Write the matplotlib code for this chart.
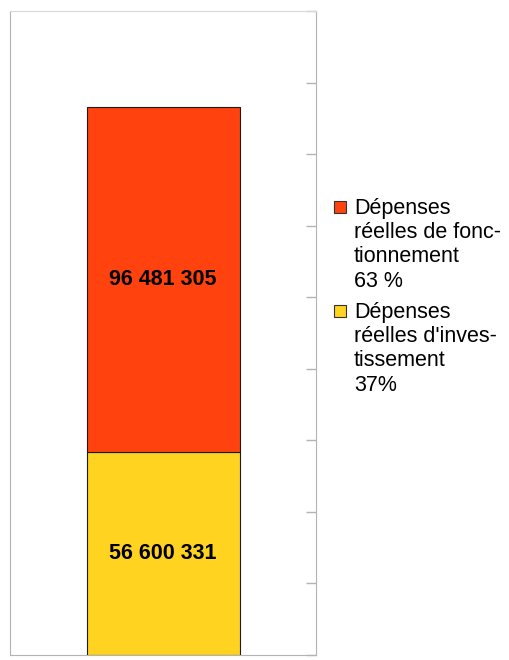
import matplotlib.pyplot as plt
import numpy as np
from matplotlib.patches import Rectangle

plt.rcParams['font.family'] = ['Liberation Sans', 'DejaVu Sans']

# données
categories = ['']
investissement = [56600331]
fonctionnement = [96481305]
valeur_labels = ['56 600 331', '96 481 305']
legend_labels = ['Dépenses\nréelles de fonc-\ntionnement\n63 %',
                 "Dépenses\nréelles d'inves-\ntissement\n37%"]
colors = ['#ff420e', '#ffd320']
y_ticks = np.arange(0, 180e6 + 1, 20e6)

W, H = 509, 660
fig = plt.figure(figsize=(W / 100, H / 100), dpi=100)
ax = fig.add_axes([10 / W, 5 / H, 306 / W, 644 / H])

x = np.arange(len(categories))
ax.bar(x, investissement, width=1.0, color=colors[1], edgecolor='#1a1a1a', linewidth=0.8)
ax.bar(x, fonctionnement, width=1.0, bottom=investissement, color=colors[0],
       edgecolor='#1a1a1a', linewidth=0.8)

# valeurs au centre des segments
ax.text(x[0], investissement[0] / 2, valeur_labels[0], ha='center', va='center',
        fontsize=15.5, fontweight='bold', color='black')
ax.text(x[0], investissement[0] + fonctionnement[0] / 2, valeur_labels[1], ha='center',
        va='center', fontsize=15.5, fontweight='bold', color='black')

ax.set_xlim(-1, 1)
ax.set_ylim(0, 180e6)
ax.set_xticks([])
ax.yaxis.tick_right()
ax.set_yticks(y_ticks)
ax.set_yticklabels([])
ax.tick_params(axis='y', direction='in', length=7.5, width=1, color='#b3b3b3')
for side in ['left', 'right', 'bottom']:
    ax.spines[side].set_color('#b3b3b3')
ax.spines['top'].set_color('#d9d9d9')

# légende
tops = [198, 302]
for i in range(2):
    y0 = tops[i]
    fig.patches.append(Rectangle((334 / W, 1 - (y0 + 15) / H), 12 / W, 12 / H,
                                 transform=fig.transFigure, facecolor=colors[i],
                                 edgecolor='#333333', linewidth=0.8))
    fig.text(354 / W, 1 - y0 / H, legend_labels[i], ha='left', va='top',
             fontsize=15.5, linespacing=1.2, color='black')

fig.savefig('out.png', dpi=100)
